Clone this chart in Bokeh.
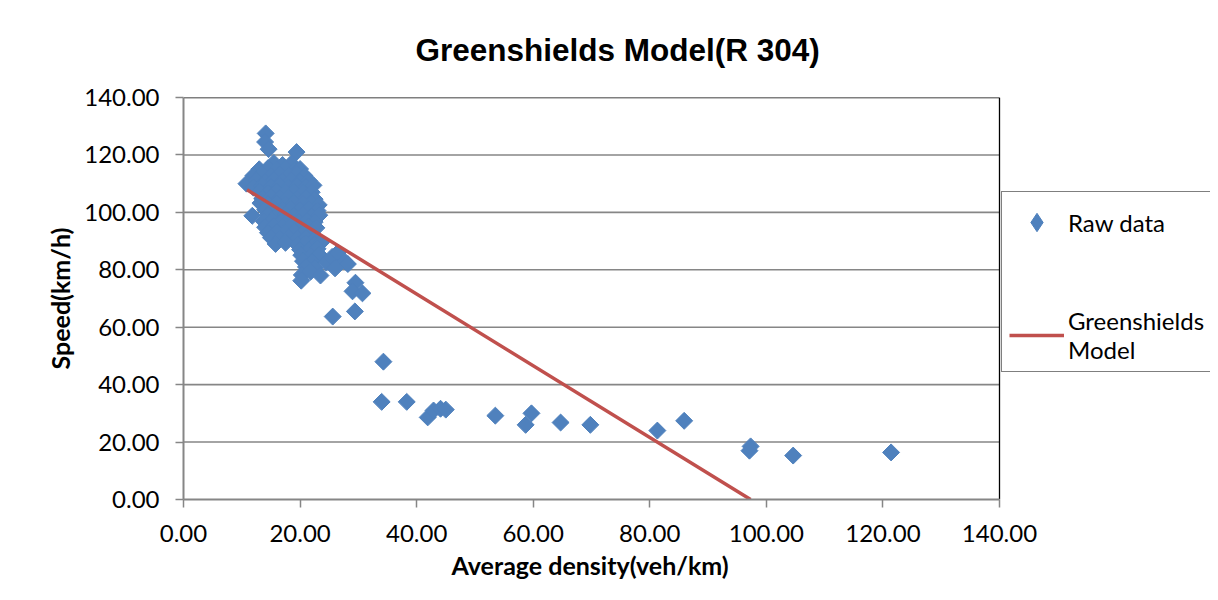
from bokeh.plotting import figure
from bokeh.models import FixedTicker, NumeralTickFormatter, Legend, LegendItem, Range1d, Title
from bokeh.embed import file_html
from bokeh.resources import INLINE
import numpy as np
import math

# ---- data ----
density = [
    14.1, 14.0, 14.6, 19.4,
    15.5, 17.0, 18.5,
    13.0, 14.5, 16.0, 17.5, 19.0, 20.0,
    12.0, 13.5, 15.0, 16.5, 18.0, 19.5, 20.8,
    10.8, 12.5, 14.0, 15.5, 17.0, 18.5, 20.0, 21.5,
    12.0, 13.5, 15.0, 16.5, 18.0, 19.5, 21.0, 22.3,
    13.0, 14.5, 16.0, 17.5, 19.0, 20.5, 22.0,
    13.5, 15.0, 16.5, 18.0, 19.5, 21.0, 22.5,
    13.2, 14.5, 16.0, 17.5, 19.0, 20.5, 22.0, 23.2,
    14.0, 15.5, 17.0, 18.5, 20.0, 21.5, 23.0,
    11.8, 14.5, 16.0, 17.5, 19.0, 20.5, 22.0, 23.3,
    13.8, 15.2, 16.8, 18.2, 19.8, 21.2, 22.5,
    14.0, 15.5, 17.0, 18.5, 20.0, 21.5, 22.8,
    14.5, 16.0, 17.5, 19.0, 20.5, 22.0,
    15.0, 16.5, 18.0, 19.5, 21.0, 22.5,
    15.8, 17.5, 19.5, 21.0, 22.5, 23.6,
    20.0, 21.5, 23.0,
    20.2, 21.8, 23.3,
    20.5, 22.0,
    21.0, 22.5,
    20.3, 21.8, 23.5,
    20.2,
    24.5, 25.5, 26.5, 27.6, 28.2, 26.0,
    29.5, 29.0, 30.7, 29.4, 25.6,
    34.3, 34.0, 38.3, 41.9, 42.9, 44.1, 45.0,
    53.5, 58.7, 59.7, 64.7, 69.8, 81.3, 85.9,
    97.1, 97.3, 104.6, 121.4,
]
speed = [
    127.5, 124.5, 122.0, 121.0,
    117.2, 116.5, 117.0,
    115.0, 115.4, 114.8, 115.3, 114.6, 115.1,
    112.8, 113.3, 112.6, 113.2, 112.9, 113.4, 112.7,
    110.0, 111.2, 110.7, 111.3, 110.8, 111.1, 110.6, 111.0,
    108.6, 109.2, 108.8, 109.3, 108.7, 109.1, 108.9, 109.4,
    107.2, 106.8, 107.3, 106.9, 107.1, 106.7, 107.0,
    104.8, 105.3, 104.9, 105.2, 104.7, 105.1, 104.6,
    103.2, 102.8, 103.1, 102.7, 103.3, 102.9, 103.0, 102.6,
    100.9, 101.3, 100.8, 101.2, 100.7, 101.1, 100.6,
    98.8, 99.2, 98.9, 99.3, 98.7, 99.1, 98.6, 99.0,
    96.8, 97.2, 96.9, 97.3, 96.7, 97.1, 96.6,
    94.8, 95.2, 94.9, 95.3, 94.7, 95.1, 94.6,
    92.9, 93.2, 92.8, 93.3, 92.7, 93.1,
    91.2, 90.8, 91.3, 90.9, 91.1, 90.7,
    89.0, 89.4, 88.8, 89.2, 88.9, 89.5,
    87.0, 86.8, 87.3,
    85.1, 84.8, 85.2,
    83.0, 82.7,
    81.0, 80.6,
    78.2, 79.3, 78.0,
    76.2,
    82.5, 84.5, 86.0, 83.0, 82.0, 80.5,
    75.5, 72.5, 71.8, 65.5, 63.7,
    48.0, 34.0, 34.0, 28.6, 31.0, 31.6, 31.3,
    29.2, 26.0, 30.0, 26.8, 26.0, 24.0, 27.4,
    17.0, 18.5, 15.3, 16.4,
]
model_density = [10.9, 97.3]
model_speed = [107.9, 0.0]
ticks = [0, 20, 40, 60, 80, 100, 120, 140]

BLUE = "#4F81BD"
RED = "#C0504D"
GRID = "#868686"
FONT = "Lato"

# layout: plot area of the axes is 816 px wide for 0..140; the frame is widened
# to the right so that the legend (drawn inside it) is not clipped.
W, H = 1210, 592
LEFT, TOP, BOTTOM = 183, 97, 93
AX_W = 816
frame_w = W - LEFT
x_max = ticks[-1] * frame_w / AX_W

p = figure(width=W, height=H, output_backend="svg", toolbar_location=None,
           x_range=Range1d(0, x_max), y_range=Range1d(0, ticks[-1]),
           min_border_left=LEFT, min_border_top=TOP, min_border_right=0,
           min_border_bottom=BOTTOM)

p.title.text = "Greenshields Model(R 304)"
p.title.align = "left"
p.title.offset = 232
p.title.standoff = 59
p.title.text_font = "Liberation Sans"
p.title.text_font_size = "31.5px"
p.title.text_font_style = "bold"
p.title.text_color = "black"

p.outline_line_color = None
p.background_fill_color = "white"
p.border_fill_color = "white"

p.xgrid.grid_line_color = None
p.ygrid.grid_line_color = None

# horizontal gridlines and plot-area border, limited to the axis extent
p.segment(x0=ticks[0], x1=ticks[-1], y0=ticks[1:-1], y1=ticks[1:-1],
          line_color=GRID, line_width=1.6)
p.segment(x0=[ticks[0], ticks[-1]], x1=[ticks[-1], ticks[-1]],
          y0=[ticks[-1], ticks[0]], y1=[ticks[-1], ticks[-1]],
          line_color="black", line_width=1.3)

for ax in (p.xaxis[0], p.yaxis[0]):
    ax.ticker = FixedTicker(ticks=ticks)
    ax.bounds = (ticks[0], ticks[-1])
    ax.formatter = NumeralTickFormatter(format="0.00")
    ax.axis_line_color = GRID
    ax.axis_line_width = 2
    ax.major_tick_line_color = GRID
    ax.major_tick_line_width = 1.5
    ax.major_tick_out = 8
    ax.major_tick_in = 0
    ax.minor_tick_line_color = None
    ax.major_label_text_font = FONT
    ax.major_label_text_font_size = "24px"
    ax.major_label_text_color = "black"
    ax.axis_label_text_font = FONT
    ax.axis_label_text_font_size = "25px"
    ax.axis_label_text_font_style = "bold"
    ax.axis_label_text_color = "black"

p.yaxis.axis_label = "Speed(km/h)"
p.yaxis.major_label_standoff = 16
p.xaxis.major_label_standoff = 17
p.yaxis.axis_label_standoff = 6

# x-axis title, centred under the 0..140 axis (not the widened frame)
xtitle = Title(text="Average density(veh/km)", align="left", offset=268,
               standoff=6, text_font=FONT, text_font_size="25px",
               text_font_style="bold", text_color="black")
p.add_layout(xtitle, "below")

pts = p.scatter(density, speed, marker="square", size=12, angle=math.pi / 4,
                fill_color=BLUE, line_color=BLUE, line_width=1)
ln = p.line(model_density, model_speed, line_color=RED, line_width=3.5)
key = p.scatter(x=np.array([np.nan]), y=np.array([np.nan]), marker="diamond",
                size=17, fill_color=BLUE, line_color=BLUE)

legend = Legend(items=[LegendItem(label="Raw data", renderers=[key]),
                       LegendItem(label="Greenshields\nModel", renderers=[ln])],
                location=(818, 127), orientation="vertical")
legend.border_line_color = "black"
legend.border_line_width = 1.5
legend.background_fill_alpha = 1
legend.padding = 7
legend.margin = 0
legend.spacing = 61
legend.glyph_width = 55
legend.glyph_height = 46
legend.label_height = 46
legend.label_width = 136
legend.label_standoff = 4
legend.label_text_font = FONT
legend.label_text_font_size = "24px"
legend.label_text_color = "black"
p.add_layout(legend, "center")

open("out.html", "w").write(file_html(p, INLINE))
